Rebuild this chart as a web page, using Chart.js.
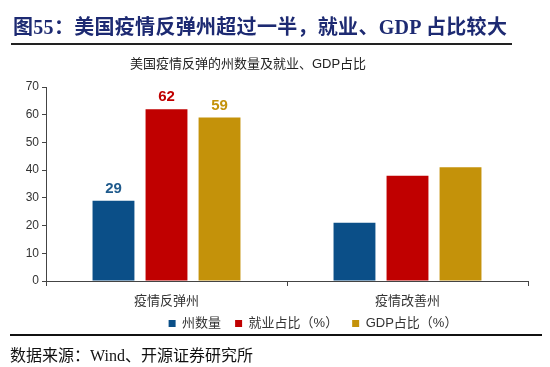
<!DOCTYPE html>
<html><head><meta charset="utf-8">
<script src="https://cdn.jsdelivr.net/npm/chart.js@4"></script>
<style>
html,body{margin:0;padding:0;background:#fff;}
#wrap{position:relative;width:550px;height:367px;overflow:hidden;}
#c{position:absolute;left:0;top:0;}
.t{position:absolute;white-space:nowrap;}
#title{left:13px;top:11px;font:bold 20px "Liberation Serif","Noto Sans CJK SC",serif;color:#1d2a72;letter-spacing:0.3px;}
#line1{position:absolute;left:11px;top:43px;width:501px;height:2px;background:#222;}
#sub{left:0;width:496px;text-align:center;top:53px;font:13px "Liberation Sans","Noto Sans CJK SC",sans-serif;color:#222;}
#line2{position:absolute;left:10px;top:334px;width:532px;height:2px;background:#111;}
#src{left:10px;top:342px;font:16px "Liberation Serif","Noto Sans CJK SC",serif;color:#111;}
</style></head>
<body><div id="wrap">
<canvas id="c" width="550" height="367"></canvas>
<div class="t" id="title">图55：美国疫情反弹州超过一半，就业、GDP 占比较大</div>
<div id="line1"></div>
<div class="t" id="sub">美国疫情反弹的州数量及就业、GDP占比</div>
<div id="line2"></div>
<div class="t" id="src">数据来源：Wind、开源证券研究所</div>
</div>
<script>
const categories = ["疫情反弹州", "疫情改善州"];
const seriesNames = ["州数量", "就业占比（%）", "GDP占比（%）"];
const stateCount = [29, 21];
const employmentShare = [62, 38];
const gdpShare = [59, 41];
const yTicks = [0, 10, 20, 30, 40, 50, 60, 70];
const colors = ["#0b4f88", "#c00000", "#c4920a"];
const labelColors = ["#1f5a8c", "#c00000", "#c4920a"];

const labelPlugin = {
  id: "valueLabels",
  afterDatasetsDraw(chart) {
    const ctx = chart.ctx;
    ctx.save();
    ctx.font = "bold 15px 'Liberation Sans', Arial, sans-serif";
    ctx.textAlign = "center";
    ctx.textBaseline = "middle";
    chart.data.datasets.forEach((ds, i) => {
      const meta = chart.getDatasetMeta(i);
      const el = meta.data[0];
      ctx.fillStyle = labelColors[i];
      ctx.fillText(String(ds.data[0]), el.x, el.y - 12);
    });
    ctx.restore();
  }
};
const legendShift = {
  id: "legendShift",
  afterLayout(chart) {
    const lg = chart.legend;
    if (lg) { lg.left += 98; lg.top -= 8; lg.bottom -= 8; }
  }
};

const sans = "'Liberation Sans', 'Noto Sans CJK SC', sans-serif";
new Chart(document.getElementById("c"), {
  type: "bar",
  data: {
    labels: categories,
    datasets: [
      { label: seriesNames[0], data: stateCount, backgroundColor: colors[0] },
      { label: seriesNames[1], data: employmentShare, backgroundColor: colors[1] },
      { label: seriesNames[2], data: gdpShare, backgroundColor: colors[2] }
    ]
  },
  options: {
    responsive: false,
    animation: false,
    datasets: { bar: { categoryPercentage: 0.66, barPercentage: 0.79 } },
    layout: { padding: { left: 0, right: 22, top: 87, bottom: 19 } },
    plugins: {
      legend: {
        position: "bottom",
        labels: {
          boxWidth: 7, boxHeight: 7, padding: 14,
          color: "#333",
          font: { family: sans, size: 13 }
        }
      },
      tooltip: { enabled: false }
    },
    scales: {
      x: {
        grid: { display: true, offset: true, drawOnChartArea: false, tickLength: 5, color: "#444" },
        border: { color: "#444", width: 1 },
        ticks: { color: "#333", font: { family: sans, size: 13 }, padding: 8 },
        afterFit(s) { s.height = 30; }
      },
      y: {
        min: 0, max: 70,
        afterBuildTicks(s) { s.ticks = yTicks.map(v => ({ value: v })); },
        grid: { display: true, drawOnChartArea: false, tickLength: 4, color: "#444" },
        border: { color: "#444", width: 1 },
        ticks: { color: "#333", font: { family: sans, size: 12 }, padding: 3 },
        afterFit(s) { s.width = 46; }
      }
    }
  },
  plugins: [labelPlugin, legendShift]
});
</script>
</body></html>
